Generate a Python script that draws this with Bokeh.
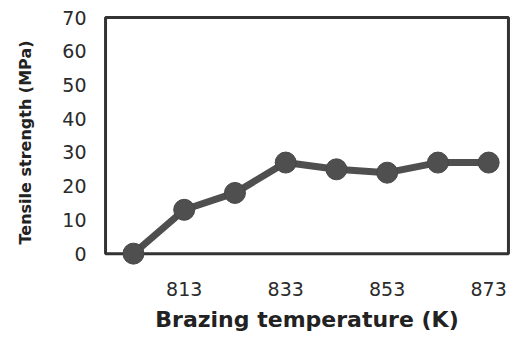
from bokeh.plotting import figure
from bokeh.models import Range1d, FixedTicker, BoxAnnotation
from bokeh.embed import file_html
from bokeh.resources import INLINE

temps = [803, 813, 823, 833, 843, 853, 863, 873]
strength = [0, 13, 18, 27, 25, 24, 27, 27]
x_ticks = [813, 833, 853, 873]
y_ticks = [0, 10, 20, 30, 40, 50, 60, 70]

# drawing frame limits (data space) and padded ranges so markers are not clipped
frame_left, frame_right, frame_bottom, frame_top = 797.5, 876.9, 0, 70

p = figure(width=518, height=340, output_backend="svg", toolbar_location=None,
           x_range=Range1d(796.9, 877.5), y_range=Range1d(-5.0, 70.9),
           min_border_left=102, min_border_right=7, min_border_top=14, min_border_bottom=70)

p.xgrid.visible = False
p.ygrid.visible = False
p.outline_line_color = None

frame = BoxAnnotation(left=frame_left, right=frame_right, bottom=frame_bottom, top=frame_top,
                      fill_alpha=0, line_color="#333333", line_alpha=1, line_width=3,
                      level="underlay")
p.add_layout(frame)

p.line(temps, strength, line_color="#4f4f4f", line_width=7)
p.scatter(temps, strength, size=21, fill_color="#4f4f4f", line_color="#474747")

for ax in (p.xaxis[0], p.yaxis[0]):
    ax.axis_line_color = None
    ax.major_tick_line_color = None
    ax.minor_tick_line_color = None
    ax.major_label_text_font = "DejaVu Sans"
    ax.major_label_text_font_size = "19px"
    ax.major_label_text_color = "#2a2a2a"
    ax.axis_label_text_font = "DejaVu Sans"
    ax.axis_label_text_font_style = "bold"
    ax.axis_label_text_color = "#222222"

p.xaxis.ticker = FixedTicker(ticks=x_ticks)
p.yaxis.ticker = FixedTicker(ticks=y_ticks)
p.xaxis.axis_label = "Brazing temperature (K)"
p.yaxis.axis_label = "Tensile strength (MPa)"
p.xaxis.axis_label_text_font_size = "22px"
p.yaxis.axis_label_text_font_size = "16px"
p.xaxis.major_label_standoff = 5
p.yaxis.major_label_standoff = 10
p.xaxis.axis_label_standoff = 8
p.yaxis.axis_label_standoff = 24

open("out.html", "w").write(file_html(p, INLINE))
